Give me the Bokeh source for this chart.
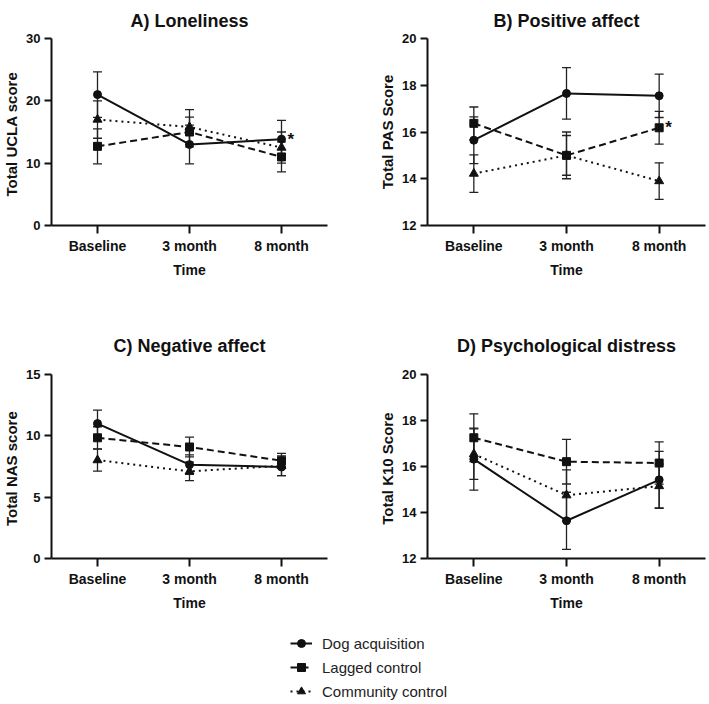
from bokeh.plotting import figure
from bokeh.models import (Range1d, FixedTicker, Whisker, TeeHead, ColumnDataSource,
                          Legend, LegendItem)
from bokeh.layouts import column, row
from bokeh.embed import file_html
from bokeh.resources import INLINE
from bokeh.core.properties import value

# ---------------- data ----------------
TIME_LABELS = ["Baseline", "3 month", "8 month"]
GROUPS = ["Dog acquisition", "Lagged control", "Community control"]

# A) Loneliness (UCLA)
A_DOG = [21.0, 13.0, 13.85]
A_DOG_ERR = [3.65, 3.1, 3.0]
A_LAG = [12.7, 15.0, 11.0]
A_LAG_ERR = [2.8, 2.4, 2.4]
A_COM = [17.0, 15.8, 12.5]
A_COM_ERR = [3.0, 2.8, 2.5]
A_TICKS = [0, 10, 20, 30]

# B) Positive affect (PAS)
B_DOG = [15.65, 17.65, 17.55]
B_DOG_ERR = [1.0, 1.1, 0.93]
B_LAG = [16.37, 15.0, 16.18]
B_LAG_ERR = [0.7, 0.85, 0.7]
B_COM = [14.22, 15.0, 13.9]
B_COM_ERR = [0.8, 1.0, 0.78]
B_TICKS = [12, 14, 16, 18, 20]

# C) Negative affect (NAS)
C_DOG = [11.0, 7.65, 7.46]
C_DOG_ERR = [1.1, 0.8, 0.7]
C_LAG = [9.84, 9.09, 7.97]
C_LAG_ERR = [0.9, 0.8, 0.6]
C_COM = [8.02, 7.1, 7.56]
C_COM_ERR = [0.9, 0.75, 0.8]
C_TICKS = [0, 5, 10, 15]

# D) Psychological distress (K10)
D_DOG = [16.32, 13.64, 15.42]
D_DOG_ERR = [1.35, 1.24, 1.24]
D_LAG = [17.25, 16.21, 16.15]
D_LAG_ERR = [1.04, 0.97, 0.92]
D_COM = [16.54, 14.75, 15.15]
D_COM_ERR = [1.1, 1.1, 0.95]
D_TICKS = [12, 14, 16, 18, 20]

# ---------------- style ----------------
FONT = "Liberation Sans"
INK = "#111111"
STYLES = {
    "Dog acquisition": dict(dash="solid", marker="circle", size=8),
    "Lagged control": dict(dash="7 4", marker="square", size=8),
    "Community control": dict(dash="2 4", marker="triangle", size=9),
}


def panel(title, ylabel, yticks, series, width, height, mbl, mbr, mbt, mbb,
          title_standoff, star=None):
    p = figure(width=width, height=height,
               x_range=Range1d(-0.5, 2.5),
               y_range=Range1d(yticks[0], yticks[-1]),
               output_backend="svg", toolbar_location=None,
               min_border_left=mbl, min_border_right=mbr,
               min_border_top=mbt, min_border_bottom=mbb)
    p.title.text = title
    p.title.align = "center"
    p.title.text_font = FONT
    p.title.text_font_size = "18px"
    p.title.text_font_style = "bold"
    p.title.text_color = INK
    p.title.standoff = title_standoff

    p.xgrid.visible = False
    p.ygrid.visible = False
    p.outline_line_color = None
    p.background_fill_color = "white"
    p.border_fill_color = "white"

    for ax in (p.xaxis[0], p.yaxis[0]):
        ax.axis_line_width = 2
        ax.axis_line_color = INK
        ax.major_tick_line_width = 2
        ax.major_tick_line_color = INK
        ax.major_tick_in = 0
        ax.minor_tick_line_color = None
        ax.major_label_text_font = FONT
        ax.major_label_text_font_style = "bold"
        ax.major_label_text_color = INK
        ax.axis_label_text_font = FONT
        ax.axis_label_text_font_style = "bold"
        ax.axis_label_text_color = INK

    xa = p.xaxis[0]
    xa.ticker = FixedTicker(ticks=list(range(len(TIME_LABELS))))
    xa.major_label_overrides = {i: lab for i, lab in enumerate(TIME_LABELS)}
    xa.major_tick_out = 8
    xa.major_label_standoff = 4
    xa.major_label_text_font_size = "14px"
    xa.axis_label = "Time"
    xa.axis_label_text_font_size = "14px"
    xa.axis_label_standoff = 5

    ya = p.yaxis[0]
    ya.ticker = FixedTicker(ticks=yticks)
    ya.major_tick_out = 7
    ya.major_label_standoff = 4
    ya.major_label_text_font_size = "13px"
    ya.axis_label = ylabel
    ya.axis_label_text_font_size = "15px"
    ya.axis_label_standoff = 3

    xs = list(range(len(TIME_LABELS)))
    for name, vals, errs in series:
        st = STYLES[name]
        p.line(xs, vals, line_width=2, line_color=INK, line_dash=st["dash"])
        src = ColumnDataSource(dict(
            x=xs,
            lower=[v - e for v, e in zip(vals, errs)],
            upper=[v + e for v, e in zip(vals, errs)],
        ))
        w = Whisker(source=src, base="x", lower="lower", upper="upper",
                    line_width=1.3, line_color="#222222", level="underlay",
                    upper_head=TeeHead(size=9, line_width=1.3, line_color="#222222"),
                    lower_head=TeeHead(size=9, line_width=1.3, line_color="#222222"))
        p.add_layout(w)
        p.scatter(xs, vals, marker=st["marker"], size=st["size"],
                  fill_color=INK, line_color=INK)

    if star is not None:
        sx, sy = star
        p.text(x=[sx], y=[sy], text=["*"], x_offset=6,
               text_font=value(FONT), text_font_size="17px",
               text_font_style="bold", text_color=INK,
               text_align="left", text_baseline="middle")
    return p


pA = panel("A) Loneliness", "Total  UCLA score", A_TICKS,
           [(GROUPS[0], A_DOG, A_DOG_ERR), (GROUPS[1], A_LAG, A_LAG_ERR),
            (GROUPS[2], A_COM, A_COM_ERR)],
           width=376, height=300, mbl=46, mbr=49, mbt=38, mbb=75,
           title_standoff=16, star=(2, A_DOG[2]))
pB = panel("B) Positive affect", "Total PAS Score", B_TICKS,
           [(GROUPS[0], B_DOG, B_DOG_ERR), (GROUPS[1], B_LAG, B_LAG_ERR),
            (GROUPS[2], B_COM, B_COM_ERR)],
           width=332, height=300, mbl=46, mbr=3, mbt=38, mbb=75,
           title_standoff=16, star=(2, B_LAG[2]))
pC = panel("C) Negative affect", "Total  NAS score", C_TICKS,
           [(GROUPS[0], C_DOG, C_DOG_ERR), (GROUPS[1], C_LAG, C_LAG_ERR),
            (GROUPS[2], C_COM, C_COM_ERR)],
           width=376, height=313, mbl=46, mbr=49, mbt=74, mbb=52,
           title_standoff=38)
pD = panel("D) Psychological distress", "Total K10  Score", D_TICKS,
           [(GROUPS[0], D_DOG, D_DOG_ERR), (GROUPS[1], D_LAG, D_LAG_ERR),
            (GROUPS[2], D_COM, D_COM_ERR)],
           width=332, height=313, mbl=46, mbr=3, mbt=74, mbb=52,
           title_standoff=38)

# ---------------- legend ----------------
leg = figure(width=708, height=90, output_backend="svg", toolbar_location=None,
             min_border=0, x_axis_location=None, y_axis_location=None,
             x_range=Range1d(0, 1), y_range=Range1d(0, 1))
leg.outline_line_color = None
leg.xgrid.visible = False
leg.ygrid.visible = False
items = []
for name in GROUPS:
    st = STYLES[name]
    # data placed outside the visible range: only the legend swatch shows
    r1 = leg.line(x=[-5, -4], y=[-5, -5], line_width=2, line_color=INK,
                  line_dash=st["dash"])
    r2 = leg.scatter(x=[-5], y=[-5], marker=st["marker"], size=st["size"],
                     fill_color=INK, line_color=INK)
    items.append(LegendItem(label=name, renderers=[r1, r2]))
legend = Legend(items=items, location=(290, 0), orientation="vertical",
                glyph_width=22, glyph_height=20, label_height=24,
                spacing=0, padding=0, margin=0, label_standoff=10,
                label_text_font=FONT, label_text_font_size="15px",
                label_text_color="#222222", label_text_baseline="middle",
                border_line_color=None, background_fill_alpha=0)
leg.add_layout(legend)

layout = column(row(pA, pB), row(pC, pD), leg)

open("out.html", "w").write(file_html(layout, INLINE))
